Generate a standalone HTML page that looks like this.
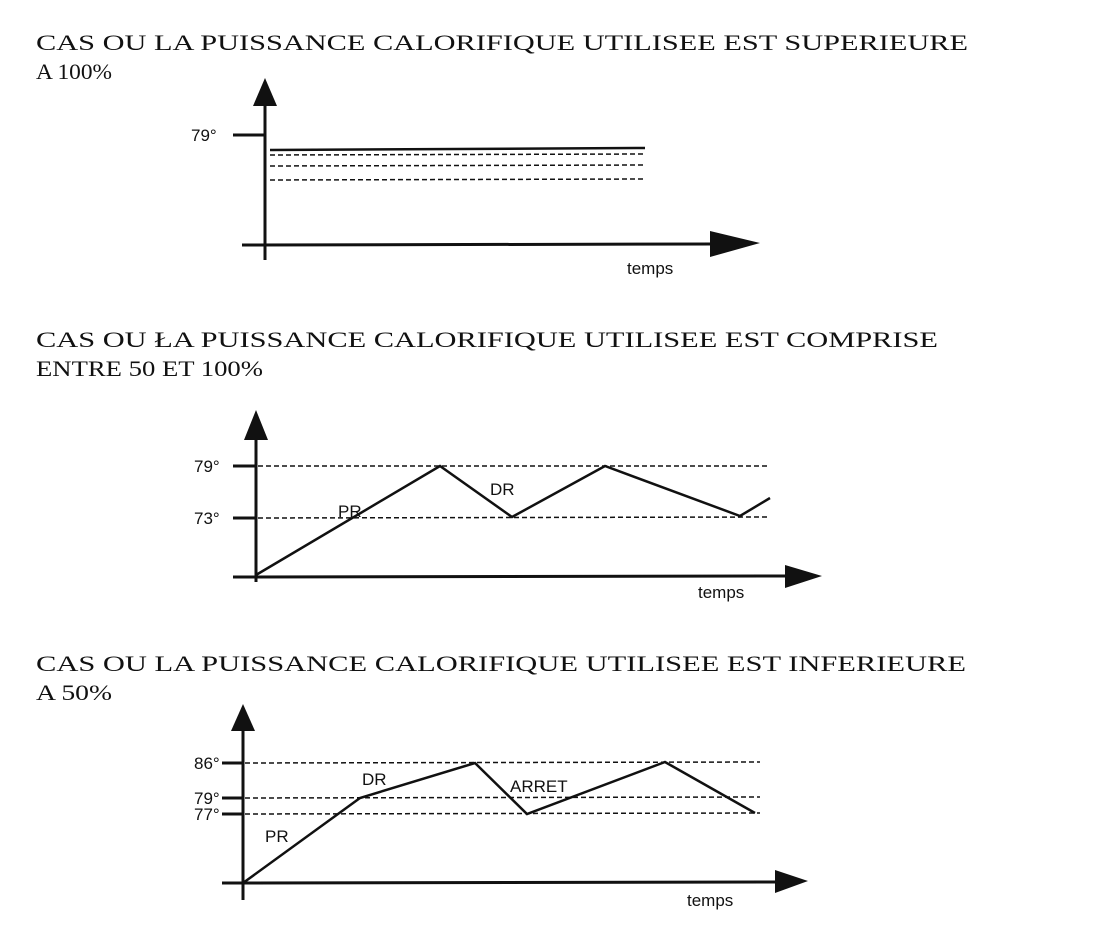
<!DOCTYPE html>
<html><head><meta charset="utf-8"><style>html,body{margin:0;padding:0;background:#fff}svg{display:block}</style></head>
<body>
<svg width="1093" height="952" viewBox="0 0 1093 952" xmlns="http://www.w3.org/2000/svg">
<g font-family="Liberation Serif, serif" font-size="22" fill="#111">
<text x="36" y="50" textLength="932" lengthAdjust="spacingAndGlyphs">CAS OU LA PUISSANCE CALORIFIQUE UTILISEE EST SUPERIEURE</text>
<text x="36" y="79" textLength="76" lengthAdjust="spacingAndGlyphs">A 100%</text>
<text x="36" y="347" textLength="902" lengthAdjust="spacingAndGlyphs">CAS OU ŁA PUISSANCE CALORIFIQUE UTILISEE EST COMPRISE</text>
<text x="36" y="376" textLength="227" lengthAdjust="spacingAndGlyphs">ENTRE 50 ET 100%</text>
<text x="36" y="671" textLength="930" lengthAdjust="spacingAndGlyphs">CAS OU LA PUISSANCE CALORIFIQUE UTILISEE EST INFERIEURE</text>
<text x="36" y="700" textLength="76" lengthAdjust="spacingAndGlyphs">A 50%</text>
</g>
<g stroke="#111" fill="none" stroke-width="3">
<line x1="265" y1="100" x2="265" y2="260"/>
<line x1="242" y1="245" x2="715" y2="244"/>
<line x1="233" y1="135" x2="265" y2="135"/>
<line x1="270" y1="150" x2="645" y2="148" stroke-width="2.5"/>
<line x1="256" y1="435" x2="256" y2="582"/>
<line x1="233" y1="577" x2="790" y2="576"/>
<line x1="233" y1="466" x2="256" y2="466"/>
<line x1="233" y1="518" x2="256" y2="518"/>
<polyline points="256,575 440,466 512,517 605,466 740,516 770,498" stroke-width="2.5"/>
<line x1="243" y1="725" x2="243" y2="900"/>
<line x1="222" y1="883" x2="780" y2="882"/>
<line x1="222" y1="763" x2="243" y2="763"/>
<line x1="222" y1="798" x2="243" y2="798"/>
<line x1="222" y1="814" x2="243" y2="814"/>
<polyline points="243,883 360,798 475,763 527,814 665,762 755,813" stroke-width="2.5"/>
</g>
<g stroke="#111" fill="none" stroke-width="1.5" stroke-dasharray="5,3">
<line x1="270" y1="155" x2="645" y2="154"/>
<line x1="270" y1="166" x2="645" y2="165"/>
<line x1="270" y1="180" x2="645" y2="179"/>
<line x1="258" y1="466" x2="770" y2="466"/>
<line x1="258" y1="518" x2="770" y2="517"/>
<line x1="245" y1="763" x2="760" y2="762"/>
<line x1="245" y1="798" x2="760" y2="797"/>
<line x1="245" y1="814" x2="760" y2="813"/>
</g>
<g fill="#111">
<polygon points="265,78 253,106 277,106"/>
<polygon points="760,243 710,231 710,257"/>
<polygon points="256,410 244,440 268,440"/>
<polygon points="822,576 785,565 785,588"/>
<polygon points="243,704 231,731 255,731"/>
<polygon points="808,881 775,870 775,893"/>
</g>
<g font-family="Liberation Sans, sans-serif" font-size="17" fill="#111">
<text x="191" y="141">79°</text>
<text x="627" y="274">temps</text>
<text x="194" y="472">79°</text>
<text x="194" y="524">73°</text>
<text x="338" y="517">PR</text>
<text x="490" y="495">DR</text>
<text x="698" y="598">temps</text>
<text x="194" y="769">86°</text>
<text x="194" y="804">79°</text>
<text x="194" y="820">77°</text>
<text x="362" y="785">DR</text>
<text x="510" y="792">ARRET</text>
<text x="265" y="842">PR</text>
<text x="687" y="906">temps</text>
</g>
</svg>
</body></html>
